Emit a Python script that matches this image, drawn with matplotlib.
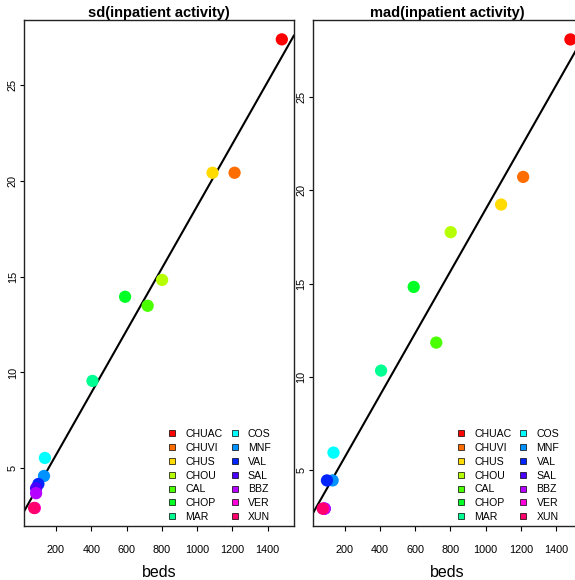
import matplotlib
matplotlib.use("Agg")
import matplotlib.pyplot as plt
from matplotlib.lines import Line2D
import numpy as np

plt.rcParams['font.family'] = ['Liberation Sans', 'DejaVu Sans']

hospitals = ["CHUAC", "CHUVI", "CHUS", "CHOU", "CAL", "CHOP", "MAR",
             "COS", "MNF", "VAL", "SAL", "BBZ", "VER", "XUN"]
colors = ["#FF0000", "#FF6D00", "#FFDB00", "#B6FF00", "#49FF00", "#00FF24", "#00FF92",
          "#00FFFF", "#0092FF", "#0024FF", "#4900FF", "#B600FF", "#FF00DB", "#FF006D"]
beds = [1481, 1213, 1088, 802, 720, 592, 407, 137, 132, 100, 87, 87, 80, 76]
sd_activity = [27.38, 20.42, 20.42, 14.83, 13.48, 13.95, 9.56, 5.54, 4.60, 4.18, 3.96, 3.70, 2.93, 2.93]
mad_activity = [28.07, 20.71, 19.23, 17.75, 11.84, 14.82, 10.34, 5.95, 4.46, 4.46, 2.95, 2.95, 2.95, 2.95]

titles = ["sd(inpatient activity)", "mad(inpatient activity)"]
xticks = [200, 400, 600, 800, 1000, 1200, 1400]
yticks = [5, 10, 15, 20, 25]
xlims = [(18.5, 1549), (18.5, 1549)]
ylims = [(1.99, 28.39), (2.02, 29.11)]

W, H = 575, 580
fig = plt.figure(figsize=(W / 100, H / 100), dpi=100)
fig.patch.set_facecolor("white")

axes_px = [(24, 20, 269.8, 506), (312.6, 20, 269.8, 506)]
series = [sd_activity, mad_activity]

for k in range(2):
    x0, ytop, w, h = axes_px[k]
    ax = fig.add_axes([x0 / W, (H - ytop - h) / H, w / W, h / H])
    y = series[k]
    ax.scatter(beds, y, s=78, c=colors, edgecolors="none", zorder=3, clip_on=True)
    m, b = np.polyfit(beds, y, 1)
    ax.axline((0, b), slope=m, color="black", lw=1.5, zorder=2)
    ax.set_xlim(*xlims[k])
    ax.set_ylim(*ylims[k])
    ax.set_xticks(xticks)
    ax.set_xticklabels([str(t) for t in xticks], fontsize=7.8)
    ax.set_yticks(yticks)
    ax.set_yticklabels([str(t) for t in yticks], fontsize=7.8, rotation=90, va="center")
    ax.tick_params(axis="x", length=3.5, width=0.8, pad=10, colors="black")
    ax.tick_params(axis="y", length=3.0, width=0.8, pad=1.5, colors="black")
    for sp in ax.spines.values():
        sp.set_linewidth(1.0)
        sp.set_color("#222222")
    ax.set_xlabel("beds", fontsize=11.5, labelpad=7.5)
    ax.set_title(titles[k], fontsize=10.5, fontweight="bold", pad=2.5)

    handles = [Line2D([0], [0], marker="s", linestyle="none", markersize=4.3,
                      markerfacecolor=c, markeredgecolor="black", markeredgewidth=0.5)
               for c in colors]
    ax.legend(handles, hospitals, loc="lower left", bbox_to_anchor=(0.53, 0.008),
              ncol=2, frameon=False, fontsize=7.6, borderpad=0, borderaxespad=0,
              handlelength=1.0, handletextpad=0.75, columnspacing=0.65,
              labelspacing=0.36)

fig.savefig("out.png", dpi=100)
